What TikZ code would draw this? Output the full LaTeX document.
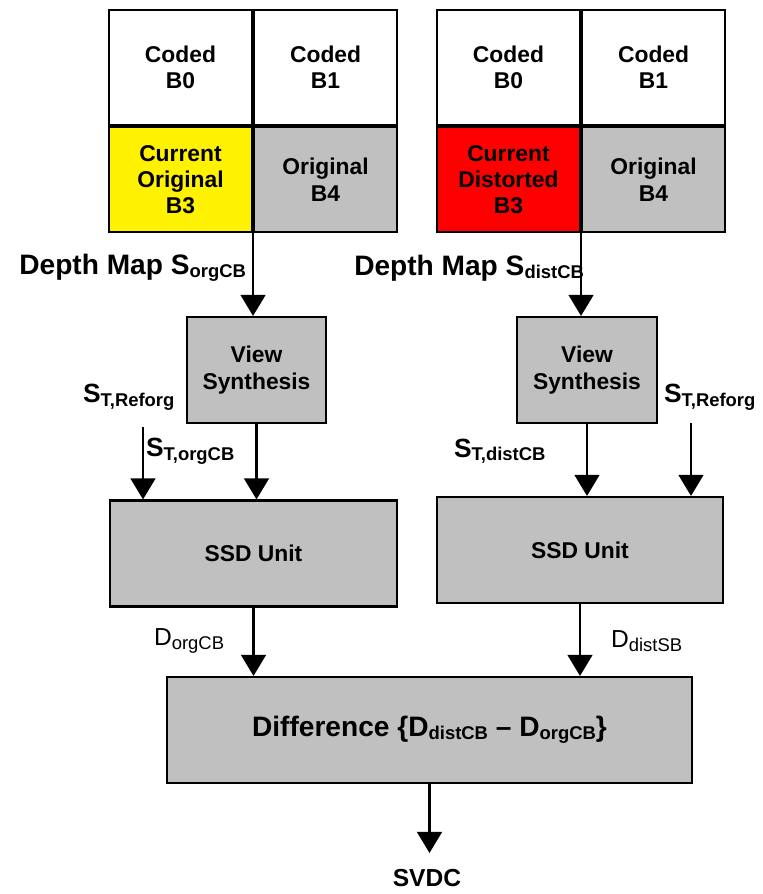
\documentclass[tikz,border=0pt]{standalone}
\usepackage{fontspec}
\setmainfont{Liberation Sans}
\usetikzlibrary{arrows.meta, positioning}
\definecolor{boxgray}{RGB}{192,192,192}
\newcommand{\sbs}[1]{\raisebox{-2pt}{\fontsize{10.5}{11}\selectfont #1}}

\begin{document}
\begin{tikzpicture}[x=0.02cm, y=-0.02cm, node distance=0pt, line width=1.2pt,
  >={Triangle[width=14pt,length=12pt]},
  cell/.style={rectangle, draw, align=center, inner sep=0pt, minimum width=2.86cm,
    font=\fontsize{13}{15}\selectfont\bfseries},
  toprow/.style={cell, fill=white, minimum height=2.3cm},
  botrow/.style={cell, fill=boxgray, minimum height=2.1cm},
  block/.style={rectangle, draw, fill=boxgray, align=center, minimum height=2.12cm,
    font=\fontsize{13}{15}\selectfont\bfseries},
  lbl/.style={inner sep=0pt, font=\fontsize{15}{17}\selectfont\bfseries},
  dlbl/.style={inner sep=0pt, font=\fontsize{14}{16}\selectfont},
  conn/.style={->, line width=1.6pt}]
\useasboundingbox (0,0) rectangle (762,894);

% original side
\node (lb0) [toprow] at (180.5,67.5) {Coded\\B0};
\node (lb1) [toprow, right=of lb0] {Coded\\B1};
\node (lb3) [botrow, fill=yellow, below=of lb0] {Current\\Original\\B3};
\node (lb4) [botrow, right=of lb3] {Original\\B4};

% distorted side
\node (rb0) [toprow] at (508.5,67.5) {Coded\\B0};
\node (rb1) [toprow, right=of rb0] {Coded\\B1};
\node (rb3) [botrow, fill=red, below=of rb0] {Current\\Distorted\\B3};
\node (rb4) [botrow, right=of rb3] {Original\\B4};

\node (ldm) [lbl, anchor=east, font=\fontsize{16}{18}\selectfont\bfseries] at (247,268) {Depth Map S\sbs{orgCB}};
\node (rdm) [lbl, anchor=east, font=\fontsize{16}{18}\selectfont\bfseries] at (585,268) {Depth Map S\sbs{distCB}};

\node (lvs) [block, minimum width=2.78cm] at (256.5,370) {View\\Synthesis};
\node (rvs) [block, minimum width=2.8cm] at (587,370) {View\\Synthesis};

\node (lssd) [block, minimum width=5.74cm] at (253.5,553.5) {SSD Unit};
\node (rssd) [block, minimum width=5.72cm] at (580,550) {SSD Unit};

\node (lref) [lbl, anchor=west] at (82,397) {S\sbs{T,Reforg}};
\node (lst)  [lbl, anchor=west] at (145,451) {S\sbs{T,orgCB}};
\node (rst)  [lbl, anchor=west] at (453,451) {S\sbs{T,distCB}};
\node (rref) [lbl, anchor=west] at (663,397) {S\sbs{T,Reforg}};
\coordinate (lrefin) at (143,427);
\coordinate (rrefin) at (691,423);

\node (diff) [block, minimum width=10.5cm, font=\fontsize{16}{18}\selectfont\bfseries]
  at (429.5,730) {Difference \{D\sbs{distCB} -- D\sbs{orgCB}\}};
\node (dorg)  [dlbl, anchor=west] at (153,641) {D\sbs{orgCB}};
\node (ddist) [dlbl, anchor=west] at (610,641) {D\sbs{distSB}};
\node (svdc)  [lbl, font=\fontsize{14}{16}\selectfont\bfseries] at (427,878) {SVDC};

\draw[conn] (lb3.south east) -- (lb3.south east |- lvs.north);
\draw[conn] (rb3.south east) -- (rb3.south east |- rvs.north);
\draw[conn] (lvs.south) -- (lvs.south |- lssd.north);
\draw[conn] (rvs.south) -- (rvs.south |- rssd.north);
\draw[conn] (lrefin) -- (lrefin |- lssd.north);
\draw[conn] (rrefin) -- (rrefin |- rssd.north);
\draw[conn] (lssd.south) -- (lssd.south |- diff.north);
\draw[conn] (rssd.south) -- (rssd.south |- diff.north);
\draw[conn] (diff.south) -- (diff.south |- 0,853);
\end{tikzpicture}
\end{document}
